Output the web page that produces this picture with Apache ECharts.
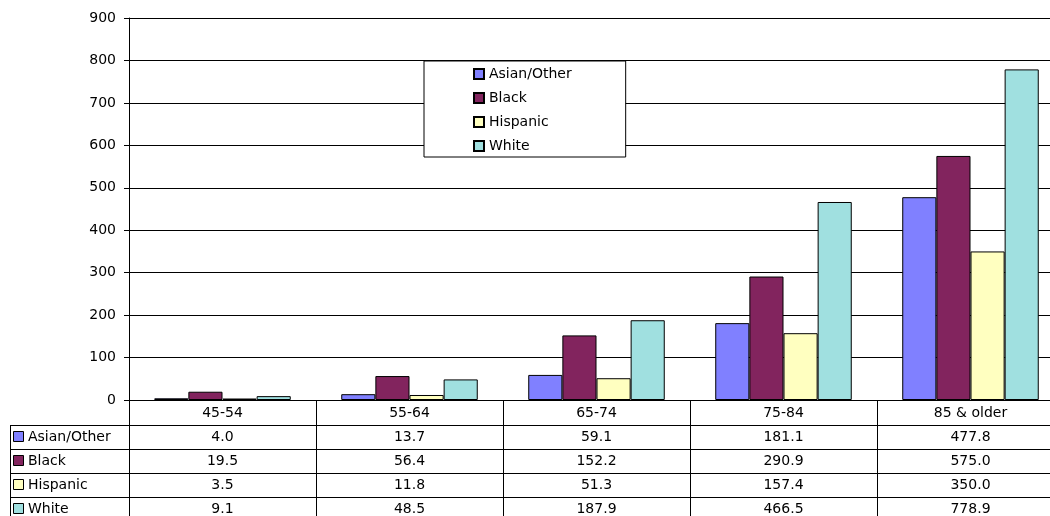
<!DOCTYPE html>
<html>
<head>
<meta charset="utf-8">
<script src="https://cdn.jsdelivr.net/npm/echarts@6/dist/echarts.min.js"></script>
<style>
  html, body { margin: 0; padding: 0; background: #fff; }
  #chart { width: 1050px; height: 516px; }
</style>
</head>
<body>
<div id="chart"></div>
<script>
var categories = ['45-54', '55-64', '65-74', '75-84', '85 & older'];
var seriesNames = ['Asian/Other', 'Black', 'Hispanic', 'White'];
var asianOther = [4.0, 13.7, 59.1, 181.1, 477.8];
var black = [19.5, 56.4, 152.2, 290.9, 575.0];
var hispanic = [3.5, 11.8, 51.3, 157.4, 350.0];
var white = [9.1, 48.5, 187.9, 466.5, 778.9];
var colors = ['#8080ff', '#82245e', '#ffffc0', '#a0e0e0'];

var allValues = [asianOther, black, hispanic, white];
var font = 'DejaVu Sans, Liberation Sans, sans-serif';
var rowH = 24;

var myChart = echarts.init(document.getElementById('chart'));

// x axes: the first carries the category row, the others carry the data table rows
var xAxes = [{
    type: 'category',
    data: categories,
    position: 'bottom',
    axisLine: { lineStyle: { color: '#000', width: 1 } },
    axisTick: { show: true, length: 116, lineStyle: { color: '#000' } },
    axisLabel: { color: '#000', fontSize: 14, fontFamily: font, margin: 6 }
}];
allValues.forEach(function (vals, i) {
    xAxes.push({
        type: 'category',
        data: vals.map(function (v) { return v.toFixed(1); }),
        position: 'bottom',
        offset: rowH * (i + 1),
        axisLine: { show: false },
        axisTick: { show: false },
        axisLabel: { color: '#000', fontSize: 14, fontFamily: font, margin: 6 }
    });
});

// table borders and row headers
var graphics = [];
[425, 449, 473, 497].forEach(function (y) {
    graphics.push({ type: 'line', shape: { x1: 10, y1: y + 0.5, x2: 1050, y2: y + 0.5 },
        style: { stroke: '#000', lineWidth: 1 }, silent: true });
});
graphics.push({ type: 'line', shape: { x1: 10.5, y1: 425, x2: 10.5, y2: 516 },
    style: { stroke: '#000', lineWidth: 1 }, silent: true });
seriesNames.forEach(function (name, i) {
    var cy = 437 + i * rowH;
    graphics.push({ type: 'rect', shape: { x: 13.5, y: cy - 5.5, width: 10, height: 10 },
        style: { fill: colors[i], stroke: '#000', lineWidth: 1 }, silent: true });
    graphics.push({ type: 'text', x: 28, y: cy, style: { text: name, fill: '#000',
        font: '14px ' + font, verticalAlign: 'middle' }, silent: true });
});

var option = {
    animation: false,
    backgroundColor: '#fff',
    grid: { left: 129, top: 18, width: 935, bottom: 116, outerBoundsMode: 'none', containLabel: false },
    legend: {
        orient: 'vertical',
        left: 424, top: 61,
        padding: [6, 54, 4, 49],
        itemWidth: 10, itemHeight: 10, itemGap: 10,
        icon: 'rect',
        backgroundColor: '#fff',
        borderColor: '#000', borderWidth: 1,
        textStyle: { color: '#000', fontSize: 14, fontFamily: font },
        data: seriesNames
    },
    xAxis: xAxes,
    yAxis: {
        type: 'value',
        min: 0, max: 900, interval: 100,
        axisLine: { show: true, lineStyle: { color: '#000' } },
        axisTick: { show: true, length: 5, lineStyle: { color: '#000' } },
        axisLabel: { color: '#000', fontSize: 14, fontFamily: font, margin: 13 },
        splitLine: { lineStyle: { color: '#000', width: 1 } }
    },
    graphic: graphics,
    series: seriesNames.map(function (name, i) {
        return {
            name: name,
            type: 'bar',
            data: allValues[i],
            barGap: '0%',
            barCategoryGap: '27%',
            itemStyle: { color: colors[i], borderColor: '#000', borderWidth: 1 }
        };
    })
};
myChart.setOption(option);
</script>
</body>
</html>
